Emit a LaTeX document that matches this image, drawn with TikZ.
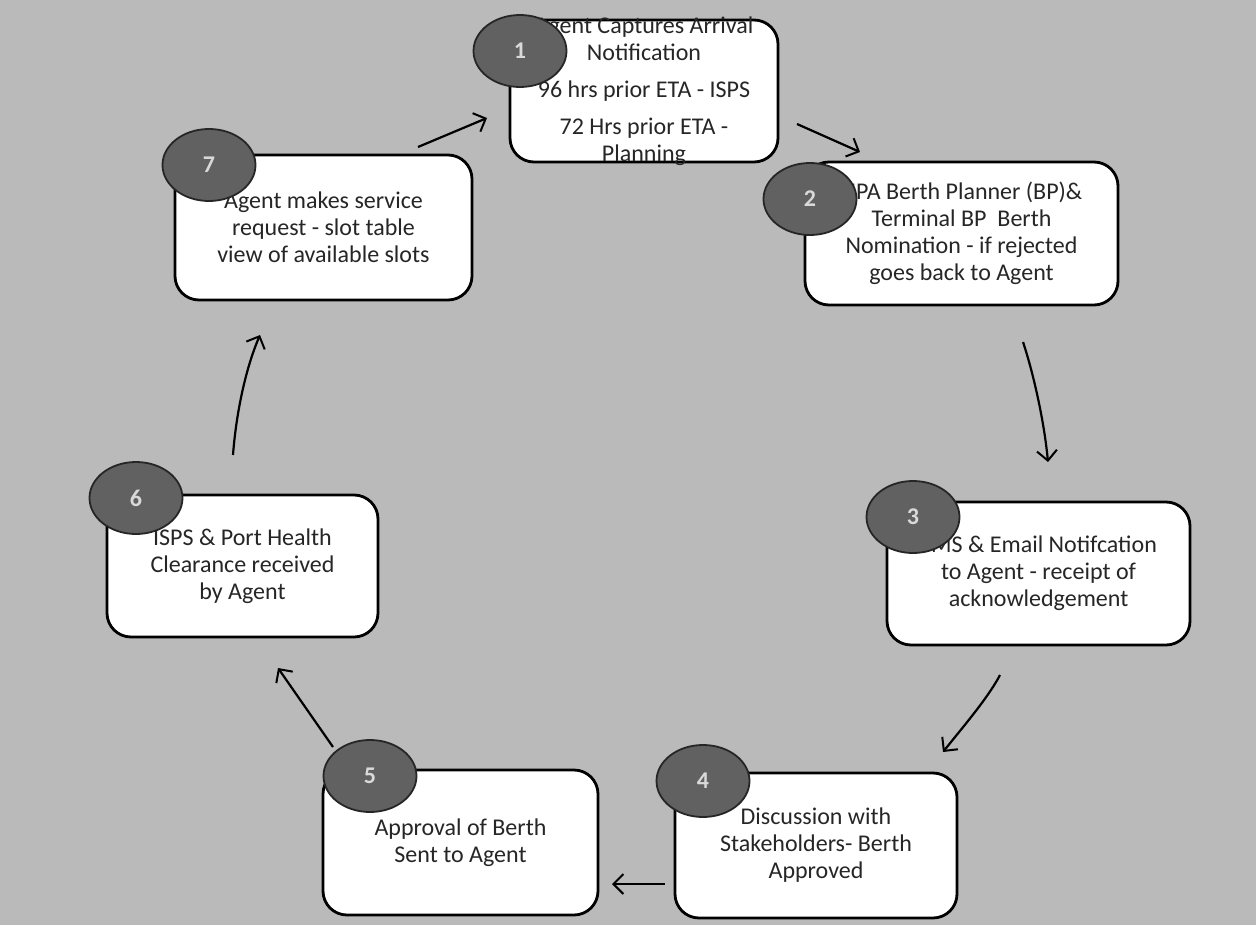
\documentclass[tikz,border=0pt]{standalone}
\usepackage{fontspec}
\setmainfont{Carlito}
\usetikzlibrary{shapes.geometric,arrows.meta}
\tikzset{
  stepbox/.style={draw=black, line width=1.4pt, fill=white, rounded corners=12pt, inner sep=0pt},
  steptext/.style={font=\fontsize{12}{13.5}\selectfont, align=center, inner sep=0pt, text=black!85},
  badge/.style={ellipse, draw=black!85, line width=0.9pt, fill=black!62, minimum width=46.5pt, minimum height=36pt, inner sep=0pt, font=\bfseries\fontsize{12}{12}\selectfont, text=black!15},
  flow/.style={line width=1.1pt, -{Straight Barb[length=5pt,width=10pt,line width=1pt]}}
}
\begin{document}
\begin{tikzpicture}[x=0.5pt,y=-0.5pt]
\fill[black!27] (0,0) rectangle (1256,925);
\useasboundingbox (0,0) rectangle (1256,925);
% boxes
\node[stepbox, minimum width=134pt, minimum height=71pt] (b1) at (644,91) {};
\node[stepbox, minimum width=156.5pt, minimum height=71.5pt] (b2) at (961.5,233.5) {};
\node[stepbox, minimum width=151.5pt, minimum height=71.5pt] (b3) at (1038.5,573.5) {};
\node[stepbox, minimum width=141pt, minimum height=72.5pt] (b4) at (816,845.5) {};
\node[stepbox, minimum width=137.5pt, minimum height=72.5pt] (b5) at (460.5,842.5) {};
\node[stepbox, minimum width=135.5pt, minimum height=71pt] (b6) at (242.5,566) {};
\node[stepbox, minimum width=148.5pt, minimum height=72.5pt] (b7) at (323.5,227.5) {};
% texts
\node[steptext] (t1) at (b1.center) {Agent Captures Arrival\\Notification\\[5pt]96 hrs prior ETA - ISPS\\[5pt]72 Hrs prior ETA -\\Planning};
\node[steptext] (t2) at (b2.center) {NPA Berth Planner (BP)\&\\Terminal BP\ \ Berth\\Nomination - if rejected\\goes back to Agent};
\node[steptext] (t3) at (b3.center) {SMS \& Email Notifcation\\to Agent - receipt of\\acknowledgement};
\node[steptext] (t4) at (b4.center) {Discussion with\\Stakeholders- Berth\\Approved};
\node[steptext] (t5) at (b5.center) {Approval of Berth\\Sent to Agent};
\node[steptext] (t6) at (b6.center) {ISPS \& Port Health\\Clearance received\\by Agent};
\node[steptext] (t7) at (b7.center) {Agent makes service\\request - slot table\\view of available slots};
% badges
\node[badge] (n1) at (520,51) {1};
\node[badge] (n2) at (810,199) {2};
\node[badge] (n3) at (913,517) {3};
\node[badge] (n4) at (703,781) {4};
\node[badge] (n5) at (370,776) {5};
\node[badge] (n6) at (136,498) {6};
\node[badge] (n7) at (209,165) {7};
% connector ends
\coordinate (a7s) at (418,147); \coordinate (a7e) at (487,118);
\coordinate (a1s) at (797,124); \coordinate (a1e) at (860,152);
\coordinate (a2s) at (1023,342); \coordinate (a2e) at (1048,462);
\coordinate (a3s) at (1000,675); \coordinate (a3e) at (943,752);
\coordinate (a4s) at (665,884); \coordinate (a4e) at (612,884);
\coordinate (a5s) at (333,747); \coordinate (a5e) at (278,668);
\coordinate (a6s) at (233,455); \coordinate (a6e) at (260,335);
% connectors
\draw[flow] (a7s) -- (a7e);
\draw[flow] (a1s) -- (a1e);
\draw[flow] (a2s) .. controls (1033,372) and (1044,420) .. (a2e);
\draw[flow] (a3s) .. controls (988,698) and (962,728) .. (a3e);
\draw[flow] (a4s) -- (a4e);
\draw[flow] (a5s) -- (a5e);
\draw[flow] (a6s) .. controls (236,415) and (245,370) .. (a6e);
\end{tikzpicture}
\end{document}
